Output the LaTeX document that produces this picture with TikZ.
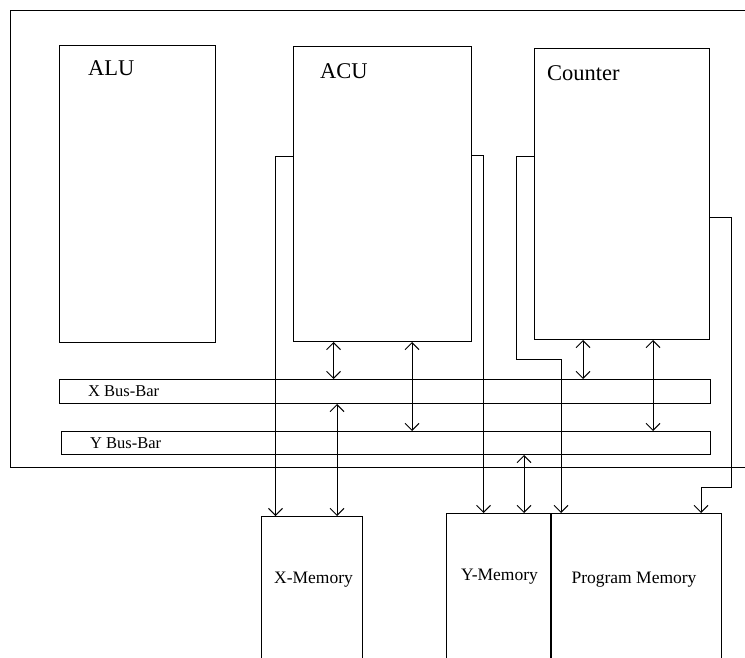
\documentclass[tikz,border=0pt]{standalone}
\usepackage{fontspec}
\setmainfont{Liberation Serif}
\usetikzlibrary{positioning, arrows.meta, calc}

\begin{document}
\begin{tikzpicture}[
    x=1pt, y=-1pt,
    box/.style={rectangle, draw, line width=1pt, inner sep=0pt, anchor=north west},
    title/.style={font=\fontsize{22.5}{24}\selectfont, inner sep=0pt, anchor=north west},
    busname/.style={font=\fontsize{16.5}{18}\selectfont, inner sep=0pt, anchor=west},
    memname/.style={font=\fontsize{17.5}{19}\selectfont, inner sep=0pt, anchor=base},
    wire/.style={line width=1pt},
    arrow/.style={wire, -{Straight Barb[length=7pt, width=14pt]}},
    both/.style={wire, {Straight Barb[length=7pt, width=14pt]}-{Straight Barb[length=7pt, width=14pt]}}
]
\useasboundingbox (0,0) rectangle (745,658);
\clip (0,0) rectangle (745,658);

% Processor frame
\node[box, minimum width=780pt, minimum height=457pt] (cpu) at (10,10) {};

% Units
\node[box, minimum width=156pt, minimum height=297pt] (alu) at (59,45) {};
\node[box, minimum width=178pt, minimum height=295pt] (acu) at (293,46) {};
\node[box, minimum width=175pt, minimum height=291pt] (counter) at (534,48) {};
\node[title] (alutxt) at (88,60) {ALU};
\node[title] (acutxt) at (320,63) {ACU};
\node[title] (countertxt) at (547,65) {Counter};

% Bus bars
\node[box, minimum width=651pt, minimum height=24pt] (xbus) at (59,379) {};
\node[box, minimum width=649pt, minimum height=23pt] (ybus) at (61,431) {};
\node[busname] (xbustxt) at (88,391.5) {X Bus-Bar};
\node[busname] (ybustxt) at (90,443) {Y Bus-Bar};

% Memories
\node[box, minimum width=101pt, minimum height=200pt] (xmem) at (261,516) {};
\node[box, minimum width=104pt, minimum height=200pt] (ymem) at (446,513) {};
\node[box, minimum width=170pt, minimum height=200pt] (pmem) at (551,513) {};
\node[memname] (xmemtxt) at (313.5,583) {X-Memory};
\node[memname] (ymemtxt) at (499.5,580.5) {Y-Memory};
\node[memname] (pmemtxt) at (634,583.5) {Program Memory};

% Address lines
\draw[arrow] ($(acu.north west)+(0,111)$) -| ($(xmem.north west)+(14.5,0)$);
\draw[arrow] ($(acu.north east)+(0,110)$) -| ($(ymem.north west)+(37.5,0)$);
\draw[arrow] ($(counter.north west)+(0,109)$) -- ++(-18,0)
    |- ($(pmem.north west)+(10,-154)$) -- ($(pmem.north west)+(10,0)$);
\draw[arrow] ($(counter.north east)+(0,170)$) -- ++(21,0)
    |- ($(pmem.north west)+(150,-26)$) -- ($(pmem.north west)+(150,0)$);

% Data lines
\draw[both] ($(acu.south west)+(40.5,0)$) coordinate (d1) -- (d1 |- xbus.north);
\draw[both] ($(acu.south west)+(119,0)$) coordinate (d2) -- (d2 |- ybus.north);
\draw[both] ($(xmem.north west)+(76,0)$) coordinate (d3) -- (d3 |- xbus.south);
\draw[both] ($(counter.south west)+(49,0)$) coordinate (d4) -- (d4 |- xbus.north);
\draw[both] ($(counter.south west)+(119,0)$) coordinate (d5) -- (d5 |- ybus.north);
\draw[both] ($(ymem.north west)+(78,0)$) coordinate (d6) -- (d6 |- ybus.south);

\end{tikzpicture}
\end{document}
